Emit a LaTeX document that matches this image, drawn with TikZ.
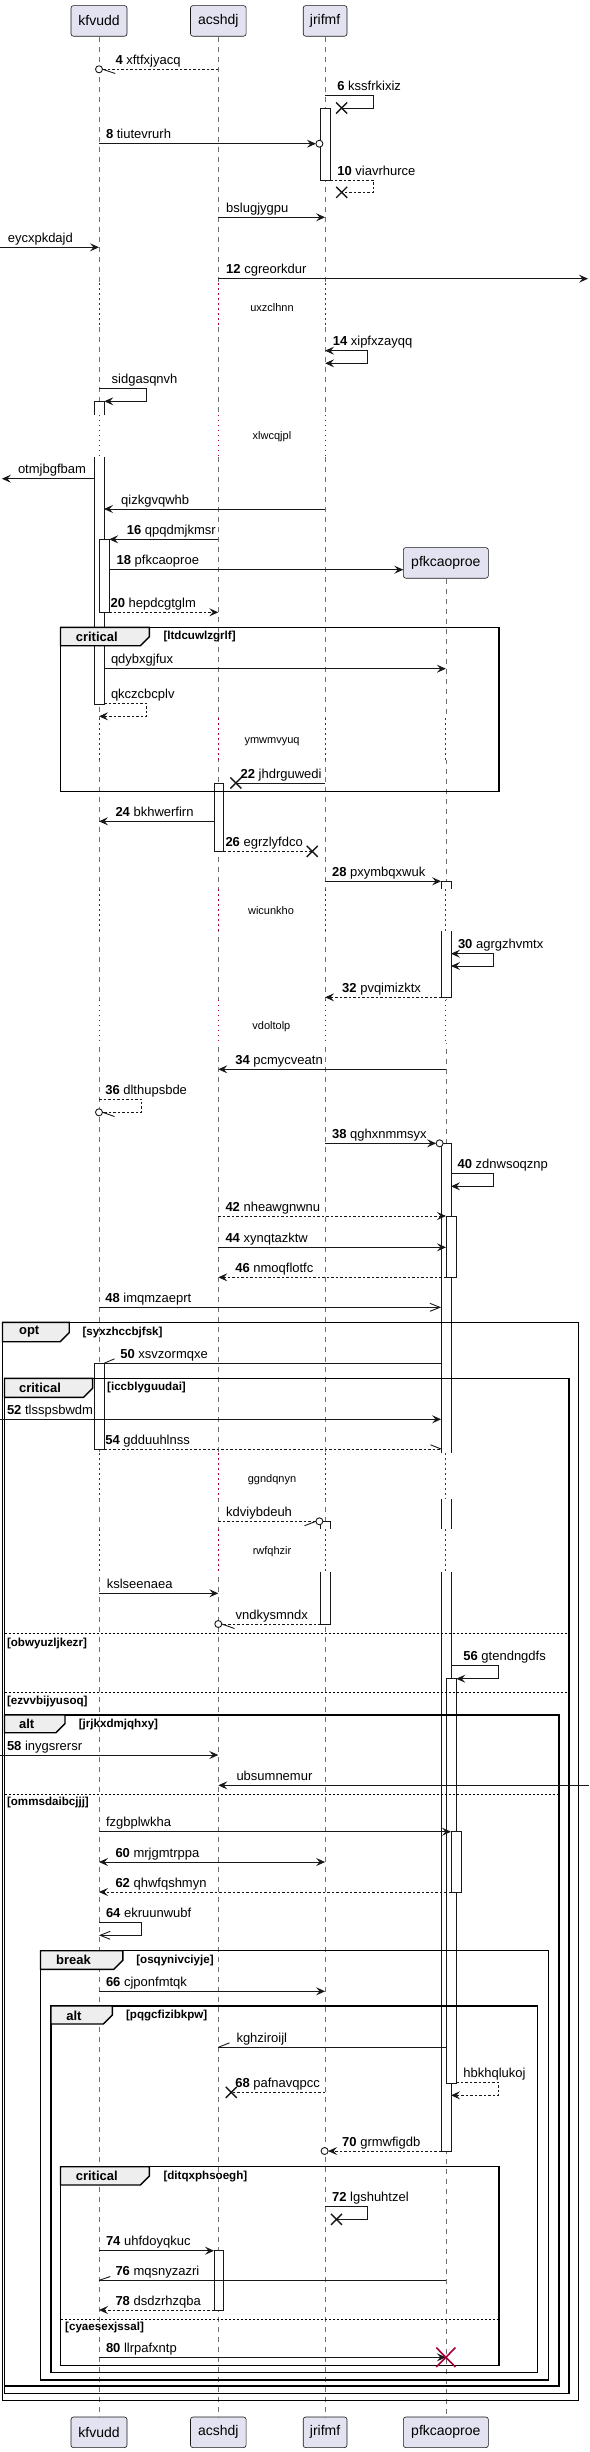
\documentclass[tikz,border=0pt]{standalone}
\usepackage{fontspec}
\setmainfont{Liberation Sans}
\usetikzlibrary{arrows.meta}
\definecolor{ink}{HTML}{181818}
\definecolor{partfill}{HTML}{E2E2F0}
\definecolor{tabfill}{HTML}{EEEEEE}
\definecolor{delayc}{HTML}{A80036}
\definecolor{lifec}{HTML}{707070}
\tikzset{
 life/.style={draw=lifec, line width=0.7pt, dash pattern=on 5pt off 5pt},
 dly/.style={draw=delayc, line width=0.8pt, dash pattern=on 1.2pt off 3.8pt},
 msg/.style={draw=ink, line width=0.9pt},
 ret/.style={msg, dash pattern=on 2.5pt off 2pt},
 hd/.style={-{Stealth[length=9pt,width=8pt,inset=3.5pt]}},
 hdboth/.style={{Stealth[length=9pt,width=8pt,inset=3.5pt]}-{Stealth[length=9pt,width=8pt,inset=3.5pt]}},
 ohd/.style={-{Straight Barb[length=10pt,width=8pt]}},
 act/.style={fill=white, draw=ink, line width=0.9pt},
 partbox/.style={fill=partfill, draw=ink, line width=0.6pt, rounded corners=2.5pt, minimum height=30.6pt, inner sep=0pt, font=\fontsize{14}{16}\selectfont, anchor=north},
 frm/.style={draw=black, line width=1.4pt},
 tabst/.style={fill=tabfill, draw=black, line width=1.4pt, line join=miter},
 sepl/.style={draw=black, line width=0.9pt, dash pattern=on 2pt off 2pt},
 lbl/.style={anchor=base west, inner sep=0pt, font=\fontsize{13}{15}\selectfont},
 dlbl/.style={anchor=center, inner sep=0pt, font=\fontsize{11}{13}\selectfont},
 tlbl/.style={anchor=west, inner sep=0pt, font=\bfseries\fontsize{13}{15}\selectfont},
 glbl/.style={anchor=west, inner sep=0pt, font=\bfseries\fontsize{11.6}{13}\selectfont},
 xmk/.style={draw=ink, line width=1.4pt},
 circ/.style={draw=ink, line width=0.9pt, fill=white},
}
\newcommand\mlabel[3]{\node[lbl] at (#1,#2-4.8) {#3};}
\newcommand\xcross[2]{\draw[xmk] (#1-5.5,#2-5.5) -- (#1+5.5,#2+5.5) (#1-5.5,#2+5.5) -- (#1+5.5,#2-5.5);}
\newcommand\grpframe[6]{%
 \draw[frm] (#1,#2) rectangle (#3,#4);
 \draw[tabst] (#1,#2) -- (#5,#2) -- (#5,#6-9) -- (#5-9,#6) -- (#1,#6) -- cycle;}
\begin{document}
\begin{tikzpicture}[x=1pt,y=-1pt]
\useasboundingbox (0,0) rectangle (589,2452);
% participants
\node[partbox, minimum width=56pt] (kT) at (99,5.3) {kfvudd};
\node[partbox, minimum width=55.6pt] (aT) at (218.3,5.3) {acshdj};
\node[partbox, minimum width=43.8pt] (jT) at (325.1,5.3) {jrifmf};
\node[partbox, minimum width=85pt] (pT) at (445.85,547.3) {pfkcaoproe};
\node[partbox, minimum width=56pt] (kB) at (99,2416.7) {kfvudd};
\node[partbox, minimum width=55.6pt] (aB) at (218.3,2416.7) {acshdj};
\node[partbox, minimum width=43.8pt] (jB) at (325.1,2416.7) {jrifmf};
\node[partbox, minimum width=85pt] (pB) at (445.85,2416.7) {pfkcaoproe};
% lifelines
\draw[life] (kT.south) -- (kB.north);
\draw[life] (aT.south) -- (aB.north);
\draw[life] (jT.south) -- (jB.north);
\draw[life] (pT.south) -- (pB.north);
% delays
\foreach \x in {99,218.3,325.1} \foreach \a/\b in {283.3/326.7,415/456.7} {
  \fill[white] (\x-1.5,\a) rectangle (\x+1.5,\b); \draw[dly] (\x,\a) -- (\x,\b);}
\foreach \x in {99,218.3,325.1,445.85} \foreach \a/\b in {718.3/760,889.3/931,1000/1043.3,1453.3/1499,1529.3/1571.7} {
  \fill[white] (\x-1.5,\a) rectangle (\x+1.5,\b); \draw[dly] (\x,\a) -- (\x,\b);}
\node[dlbl] at (272,307.3) {uxzclhnn};
\node[dlbl] at (272,436.7) {xlwcqjpl};
\node[dlbl] at (272,741.7) {ymwmvyuq};
\node[dlbl] at (271,911) {wicunkho};
\node[dlbl] at (271.4,1026.7) {vdoltolp};
\node[dlbl] at (272,1480) {ggndqnyn};
\node[dlbl] at (272,1551.7) {rwfqhzir};
% activations
\path[act] (320.5,108.3) rectangle (330.4,180.3);
\path[act] (94.1,415) -- (94.1,401.3) -- (104,401.3) -- (104,415);
\path[act] (94.1,456.7) -- (94.1,704.3) -- (104,704.3) -- (104,456.7);
\path[act] (99.1,539.3) rectangle (109.2,612.3);
\path[act] (214,783) rectangle (223.8,851.3);
\path[act] (441.1,889.3) -- (441.1,881.3) -- (451,881.3) -- (451,889.3);
\path[act] (441.1,931) -- (441.1,997.3) -- (451,997.3) -- (451,931);
\path[act] (441.1,1453.3) -- (441.1,1143.3) -- (451,1143.3) -- (451,1453.3);
\fill[white] (441.1,1499) rectangle (451,1529.3);
\draw[act] (441.1,1499) -- (441.1,1529.3) (451,1499) -- (451,1529.3);
\path[act] (441.1,1571.7) -- (441.1,2151) -- (451,2151) -- (451,1571.7);
\path[act] (446,1216) rectangle (456.3,1277.3);
\path[act] (94.1,1363.3) rectangle (104,1449.3);
\path[act] (320.5,1529.3) -- (320.5,1521.3) -- (330.4,1521.3) -- (330.4,1529.3);
\path[act] (320.5,1571.7) -- (320.5,1624) -- (330.4,1624) -- (330.4,1571.7);
\path[act] (446.5,1678.7) rectangle (456.3,2083.3);
\path[act] (451,1831.7) rectangle (461,1892);
\path[act] (214,2250.7) rectangle (223.8,2310);
% frames
\grpframe{60.5}{627.3}{499.1}{791.7}{149.4}{645.7}
\node[tlbl] at (75.6,636.5) {critical};
\node[glbl] at (163.3,636.5) {[ltdcuwlzgrlf]};
\grpframe{2.5}{1322.3}{578.6}{2400.7}{69.2}{1341.7}
\node[tlbl] at (18.9,1332) {opt};
\node[glbl] at (82.4,1332) {[syxzhccbjfsk]};
\grpframe{4.5}{1378.3}{569}{2393.3}{92.6}{1397.3}
\node[tlbl] at (18.9,1388) {critical};
\node[glbl] at (107,1388) {[iccblyguudai]};
\draw[sepl] (4.5,1633.3) -- (569,1633.3);
\node[glbl] at (6.8,1643.3) {[obwyuzljkezr]};
\draw[sepl] (4.5,1692.3) -- (569,1692.3);
\node[glbl] at (6.8,1701.5) {[ezvvbijyusoq]};
\grpframe{4.5}{1715}{558.9}{2386}{65}{1732.7}
\node[tlbl] at (18.9,1724) {alt};
\node[glbl] at (78.6,1724) {[jrjkxdmjqhxy]};
\draw[sepl] (4.5,1794) -- (558.9,1794);
\node[glbl] at (6.8,1802.7) {[ommsdaibcjjj]};
\grpframe{40.5}{1950.7}{548.3}{2380}{122.9}{1969.3}
\node[tlbl] at (56,1960) {break};
\node[glbl] at (136.1,1960) {[osqynivciyje]};
\grpframe{51}{2006}{537.7}{2372.7}{112.3}{2024}
\node[tlbl] at (66.2,2015.5) {alt};
\node[glbl] at (125.9,2015.5) {[pqgcfizibkpw]};
\grpframe{60.5}{2166.7}{499.1}{2365.7}{149.4}{2185}
\node[tlbl] at (75.6,2176) {critical};
\node[glbl] at (163.3,2176) {[ditqxphsoegh]};
\draw[sepl] (60.5,2319.3) -- (499.1,2319.3);
\node[glbl] at (65,2327.7) {[cyaesexjssal]};
% messages
\draw[ret] (218.3,69.3) -- (102.6,69.3);
\draw[circ] (99,69.3) circle (3.5);
\draw[msg] (102.6,69.3) -- (115.3,73.5);
\mlabel{115.3}{69.3}{\textbf{4} xftfxjyacq}
\draw[msg] (325.1,95.7) -- (373.1,95.7) -- (373.1,108) -- (341.7,108);
\xcross{341.7}{108}
\mlabel{337.2}{95.7}{\textbf{6} kssfrkixiz}
\draw[msg,hd] (99,143.7) -- (315.9,143.7);
\draw[circ] (319.4,143.7) circle (3.5);
\mlabel{105.8}{143.7}{\textbf{8} tiutevrurh}
\draw[ret] (330.4,180) -- (373.1,180) -- (373.1,192.3) -- (341.7,192.3);
\xcross{341.7}{192.3}
\mlabel{337.2}{180}{\textbf{10} viavrhurce}
\draw[msg,hd] (218.3,217.3) -- (325.1,217.3);
\mlabel{226}{217.3}{bslugjygpu}
\draw[msg,hd] (0,247.3) -- (99,247.3);
\mlabel{7.6}{247.3}{eycxpkdajd}
\draw[msg,hd] (218.3,278.7) -- (588,278.7);
\mlabel{226}{278.7}{\textbf{12} cgreorkdur}
\draw[msg,hdboth] (325.1,350.7) -- (367.8,350.7) -- (367.8,363.3) -- (325.1,363.3);
\mlabel{332.6}{350.7}{\textbf{14} xipfxzayqq}
\draw[msg,hd] (99,388.7) -- (146.3,388.7) -- (146.3,401.3) -- (104.3,401.3);
\mlabel{111.5}{388.7}{sidgasqnvh}
\draw[msg,hd] (94.1,478.7) -- (1.9,478.7);
\mlabel{17.8}{478.7}{otmjbgfbam}
\draw[msg,hd] (325.1,509) -- (104,509);
\mlabel{121}{509}{qizkgvqwhb}
\draw[msg,hd] (218.3,539.3) -- (109.2,539.3);
\mlabel{126.6}{539.3}{\textbf{16} qpqdmjkmsr}
\draw[msg,hd] (109.2,569.7) -- (403.3,569.7);
\mlabel{116.4}{569.7}{\textbf{18} pfkcaoproe}
\draw[ret,hd] (109.2,612.3) -- (218.3,612.3);
\mlabel{110.4}{612.3}{\textbf{20} hepdcgtglm}
\draw[msg,hd] (104,668.7) -- (445.85,668.7);
\mlabel{110.8}{668.7}{qdybxgjfux}
\draw[ret,hd] (104,703.3) -- (146.3,703.3) -- (146.3,716.3) -- (99,716.3);
\mlabel{110.8}{703.3}{qkczcbcplv}
\draw[msg] (325.1,783) -- (235.8,783);
\xcross{235.8}{783}
\mlabel{240.4}{783}{\textbf{22} jhdrguwedi}
\draw[msg,hd] (214,821.3) -- (99,821.3);
\mlabel{115.3}{821.3}{\textbf{24} bkhwerfirn}
\draw[ret] (223.8,851.3) -- (312.2,851.3);
\xcross{312.2}{851.3}
\mlabel{225.3}{851.3}{\textbf{26} egrzlyfdco}
\draw[msg,hd] (325.1,881.3) -- (441.1,881.3);
\mlabel{331.9}{881.3}{\textbf{28} pxymbqxwuk}
\draw[msg,hdboth] (451,953.7) -- (493.3,953.7) -- (493.3,966) -- (451,966);
\mlabel{457.8}{953.7}{\textbf{30} agrgzhvmtx}
\draw[ret,hd] (441.1,997.3) -- (325.1,997.3);
\mlabel{342}{997.3}{\textbf{32} pvqimizktx}
\draw[msg,hd] (445.85,1069.3) -- (218.3,1069.3);
\mlabel{235.1}{1069.3}{\textbf{34} pcmycveatn}
\draw[ret] (99,1099.3) -- (141.4,1099.3) -- (141.4,1112.3) -- (102.6,1112.3);
\draw[circ] (99,1112.3) circle (3.5);
\draw[msg] (102.6,1112.3) -- (114.5,1116.5);
\mlabel{105.1}{1099.3}{\textbf{36} dlthupsbde}
\draw[msg,hd] (325.1,1143.3) -- (436.1,1143.3);
\draw[circ] (439.6,1143.3) circle (3.5);
\mlabel{331.9}{1143.3}{\textbf{38} qghxnmmsyx}
\draw[msg,hd] (451,1173.3) -- (493.3,1173.3) -- (493.3,1186.3) -- (451,1186.3);
\mlabel{457.4}{1173.3}{\textbf{40} zdnwsoqznp}
\draw[ret,hd] (218.3,1216) -- (446,1216);
\mlabel{225.3}{1216}{\textbf{42} nheawgnwnu}
\draw[msg,hd] (218.3,1247.3) -- (446,1247.3);
\mlabel{225.3}{1247.3}{\textbf{44} xynqtazktw}
\draw[ret,hd] (446,1277.3) -- (218.3,1277.3);
\mlabel{235.1}{1277.3}{\textbf{46} nmoqflotfc}
\draw[msg,ohd] (99,1307.3) -- (441.1,1307.3);
\mlabel{105.1}{1307.3}{\textbf{48} imqmzaeprt}
\draw[msg] (441.1,1363.3) -- (104,1363.3);
\draw[msg] (104,1363.3) -- (114.5,1358.8);
\mlabel{120.2}{1363.3}{\textbf{50} xsvzormqxe}
\draw[msg,hd] (0,1419.3) -- (441.1,1419.3);
\mlabel{6.8}{1419.3}{\textbf{52} tlsspsbwdm}
\draw[ret] (104,1449) -- (441.1,1449);
\draw[msg] (441.1,1449) -- (430.5,1444.8);
\mlabel{105.1}{1449}{\textbf{54} gdduuhlnss}
\draw[ret] (218.3,1521.3) -- (315.9,1521.3);
\draw[circ] (319.4,1521.3) circle (3.5);
\draw[msg] (315.9,1521.3) -- (304.5,1525.7);
\mlabel{226}{1521.3}{kdviybdeuh}
\draw[msg,hd] (99,1593.3) -- (218.3,1593.3);
\mlabel{106.6}{1593.3}{kslseenaea}
\draw[ret] (320.5,1624) -- (221.8,1624);
\draw[circ] (218.3,1624) circle (3.5);
\draw[msg] (221.8,1624) -- (234.5,1628.5);
\mlabel{235.5}{1624}{vndkysmndx}
\draw[msg,hd] (451,1665.7) -- (498.4,1665.7) -- (498.4,1678.7) -- (456.3,1678.7);
\mlabel{463.2}{1665.7}{\textbf{56} gtendngdfs}
\draw[msg,hd] (0,1755) -- (218.3,1755);
\mlabel{6.8}{1755}{\textbf{58} inygsrersr}
\draw[msg,hd] (589,1785.3) -- (218.3,1785.3);
\mlabel{236.3}{1785.3}{ubsumnemur}
\draw[msg,hd] (99,1831.7) -- (451,1831.7);
\mlabel{105.8}{1831.7}{fzgbplwkha}
\draw[msg,hdboth] (99,1862) -- (325.1,1862);
\mlabel{115.3}{1862}{\textbf{60} mrjgmtrppa}
\draw[ret,hd] (451,1892) -- (99,1892);
\mlabel{115.3}{1892}{\textbf{62} qhwfqshmyn}
\draw[msg,ohd] (99,1922.7) -- (141.4,1922.7) -- (141.4,1935.3) -- (99,1935.3);
\mlabel{105.8}{1922.7}{\textbf{64} ekruunwubf}
\draw[msg,hd] (99,1991.3) -- (325.1,1991.3);
\mlabel{105.8}{1991.3}{\textbf{66} cjponfmtqk}
\draw[msg] (446.5,2047.3) -- (218.3,2047.3);
\draw[msg] (218.3,2047.3) -- (229.5,2042.8);
\mlabel{236.3}{2047.3}{kghziroijl}
\draw[ret,hd] (456.3,2082.3) -- (498.4,2082.3) -- (498.4,2095.3) -- (451,2095.3);
\mlabel{463.2}{2082.3}{hbkhqlukoj}
\draw[ret] (325.1,2092.3) -- (231.3,2092.3);
\xcross{231.3}{2092.3}
\mlabel{235.1}{2092.3}{\textbf{68} pafnavqpcc}
\draw[ret,hd] (441.1,2151) -- (328.1,2151);
\draw[circ] (324.6,2151) circle (3.5);
\mlabel{342}{2151}{\textbf{70} grmwfigdb}
\draw[msg] (325.1,2206.7) -- (367.8,2206.7) -- (367.8,2219.3) -- (336.5,2219.3);
\xcross{336.5}{2219.3}
\mlabel{331.9}{2206.7}{\textbf{72} lgshuhtzel}
\draw[msg,hd] (99,2250.7) -- (214,2250.7);
\mlabel{105.8}{2250.7}{\textbf{74} uhfdoyqkuc}
\draw[msg] (445.85,2280.3) -- (99,2280.3);
\draw[msg] (99,2280.3) -- (110.3,2276.5);
\mlabel{115.3}{2280.3}{\textbf{76} mqsnyzazri}
\draw[ret,hd] (214,2310) -- (99,2310);
\mlabel{115.3}{2310}{\textbf{78} dsdzrhzqba}
\draw[msg,hd] (99,2357.3) -- (445.85,2357.3);
\draw[draw=delayc, line width=1.6pt] (436.3,2347.6) -- (455.4,2367) (436.3,2367) -- (455.4,2347.6);
\mlabel{105.8}{2357.3}{\textbf{80} llrpafxntp}
\end{tikzpicture}
\end{document}
